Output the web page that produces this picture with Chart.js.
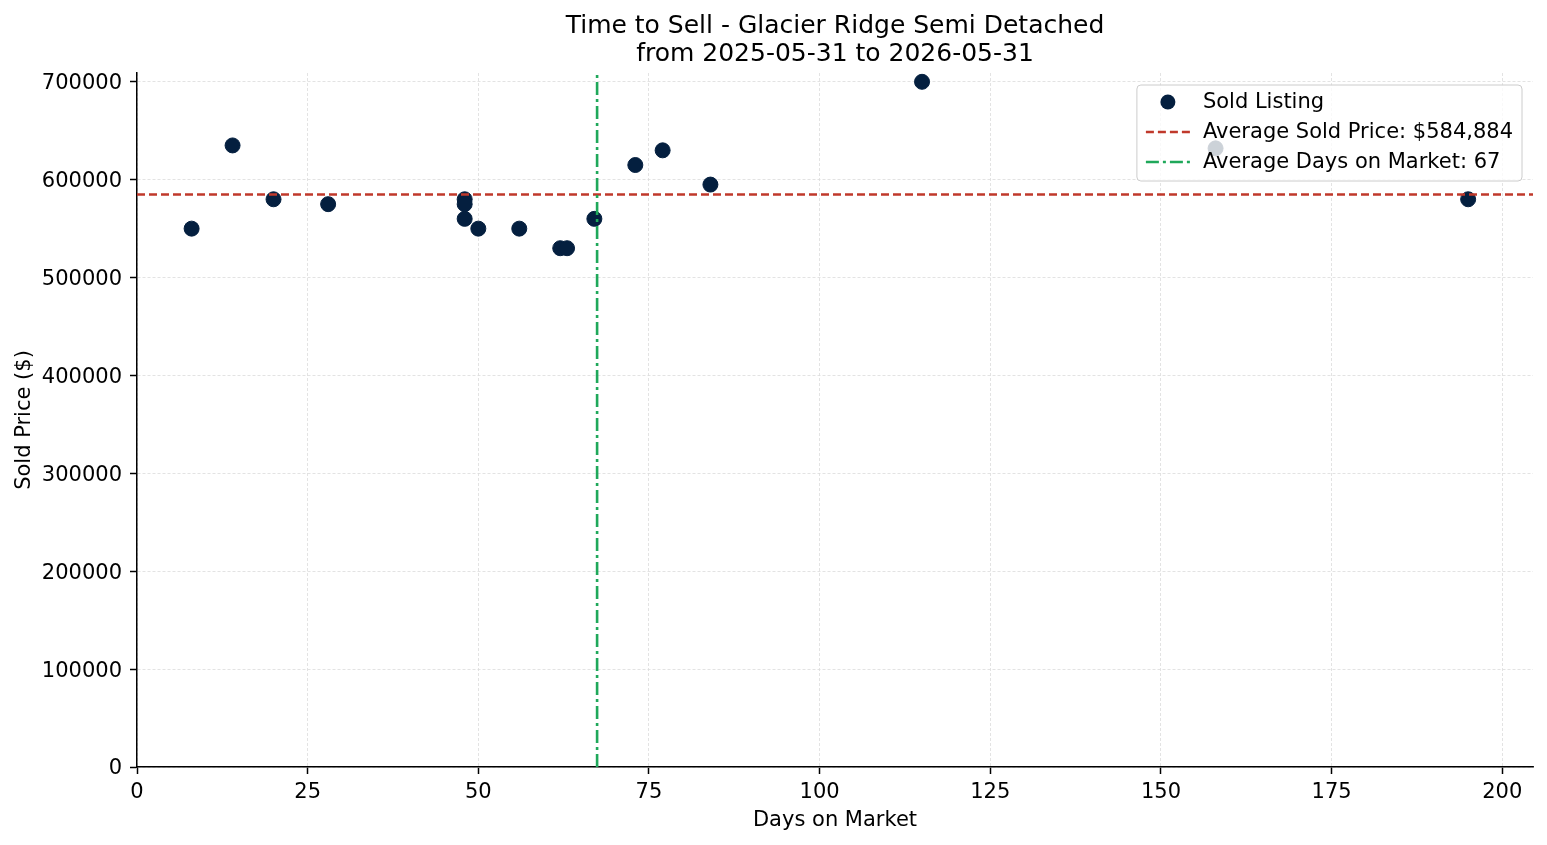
<!DOCTYPE html>
<html>
<head>
<meta charset="utf-8">
<script src="https://cdn.jsdelivr.net/npm/chart.js@4/dist/chart.umd.min.js"></script>
<style>
  html, body { margin: 0; padding: 0; background: #fff; }
  #wrap { width: 1547px; height: 845px; }
</style>
</head>
<body>
<div id="wrap"><canvas id="chart" width="1547" height="845"></canvas></div>
<script>
// --- Data ---
const daysOnMarket = [8, 14, 20, 28, 48, 48, 48, 50, 56, 62, 63, 67, 73, 77, 84, 115, 158, 195];
const soldPrices = [550000, 635000, 580000, 575000, 580000, 575000, 560000, 550000, 550000,
                    530000, 530000, 560000, 615000, 630000, 595000, 700000, 632000, 580000];
const avgSoldPrice = 584884;
const avgDays = 67.4;
const xLimits = [0, 204.5];
const yLimits = [0, 709000];
const xTicks = [0, 25, 50, 75, 100, 125, 150, 175, 200];
const yTicks = [0, 100000, 200000, 300000, 400000, 500000, 600000, 700000];
const titleLines = ['Time to Sell - Glacier Ridge Semi Detached', 'from 2025-05-31 to 2026-05-31'];

const FONT = "'DejaVu Sans', sans-serif";
const pointColor = '#041f3f';
const priceColor = '#c0392b';
const daysColor = '#1fa85a';

const points = daysOnMarket.map((d, i) => ({ x: d, y: soldPrices[i] }));

// matplotlib style legend box in the upper right
const boxLegend = {
    id: 'boxLegend',
    afterDatasetsDraw(chart) {
        const { ctx, chartArea } = chart;
        const sets = chart.data.datasets;
        ctx.save();
        ctx.font = `21px ${FONT}`;
        const maxW = Math.max(...sets.map(s => ctx.measureText(s.label).width));
        const right = chartArea.right - 11;
        const top = chartArea.top + 12;
        const left = right - (66 + maxW + 9);
        const h = 96;
        ctx.beginPath();
        ctx.roundRect(left, top, right - left, h, 4);
        ctx.fillStyle = 'rgba(255,255,255,0.8)';
        ctx.fill();
        ctx.strokeStyle = '#cccccc';
        ctx.lineWidth = 1;
        ctx.stroke();

        sets.forEach((s, i) => {
            const y = top + 17 + i * 30;
            if (s.type === 'line') {
                ctx.beginPath();
                ctx.setLineDash(s.borderDash || []);
                ctx.strokeStyle = s.borderColor;
                ctx.lineWidth = s.borderWidth;
                ctx.moveTo(left + 9, y);
                ctx.lineTo(left + 53, y);
                ctx.stroke();
                ctx.setLineDash([]);
            } else {
                ctx.beginPath();
                ctx.arc(left + 31, y, s.pointRadius, 0, Math.PI * 2);
                ctx.fillStyle = s.backgroundColor;
                ctx.fill();
            }
            ctx.fillStyle = '#000';
            ctx.textBaseline = 'middle';
            ctx.textAlign = 'left';
            ctx.fillText(s.label, left + 66, y + 1);
        });
        ctx.restore();
    }
};

const useTicks = (values) => (scale) => {
    scale.ticks = values.map(v => ({ value: v }));
};

const axisStyle = {
    grid: {
        color: '#dcdcdc',
        lineWidth: 0.8,
        tickColor: '#000',
        tickLength: 7,
        tickWidth: 1.5
    },
    border: { display: true, color: '#000', width: 1.5, dash: [3, 2] }
};

new Chart(document.getElementById('chart'), {
    type: 'scatter',
    data: {
        datasets: [
            {
                label: 'Sold Listing',
                data: points,
                backgroundColor: pointColor,
                borderColor: pointColor,
                pointRadius: 7.5,
                pointHoverRadius: 7.5,
                order: 2
            },
            {
                type: 'line',
                label: 'Average Sold Price: $' + avgSoldPrice.toLocaleString('en-US'),
                data: [{ x: xLimits[0], y: avgSoldPrice }, { x: xLimits[1], y: avgSoldPrice }],
                borderColor: priceColor,
                borderWidth: 2.5,
                borderDash: [8, 4],
                pointRadius: 0,
                fill: false,
                order: 1
            },
            {
                type: 'line',
                label: 'Average Days on Market: ' + Math.round(avgDays),
                data: [{ x: avgDays, y: yLimits[0] }, { x: avgDays, y: yLimits[1] }],
                borderColor: daysColor,
                borderWidth: 2.6,
                borderDash: [13, 4, 3, 4],
                pointRadius: 0,
                fill: false,
                order: 0
            }
        ]
    },
    options: {
        responsive: false,
        animation: false,
        layout: { padding: { top: 0, right: 14, bottom: 0, left: 0 } },
        plugins: {
            legend: { display: false },
            tooltip: { enabled: false },
            title: {
                display: true,
                text: titleLines,
                fullSize: false,
                color: '#000',
                font: { family: FONT, size: 25, weight: 'normal', lineHeight: 1.12 },
                padding: { top: 12, bottom: 5 }
            }
        },
        scales: {
            x: {
                type: 'linear',
                min: xLimits[0],
                max: xLimits[1],
                afterBuildTicks: useTicks(xTicks),
                afterFit: (scale) => { scale.height = 78; },
                ticks: {
                    autoSkip: false,
                    color: '#000',
                    padding: 6,
                    maxRotation: 0,
                    font: { family: FONT, size: 21 }
                },
                ...axisStyle,
                title: {
                    display: true,
                    text: 'Days on Market',
                    color: '#000',
                    font: { family: FONT, size: 21 },
                    padding: { top: 0, bottom: 12 }
                }
            },
            y: {
                type: 'linear',
                min: yLimits[0],
                max: yLimits[1],
                afterBuildTicks: useTicks(yTicks),
                afterFit: (scale) => { scale.width = 137; },
                ticks: {
                    autoSkip: false,
                    color: '#000',
                    padding: 8,
                    labelOffset: 2,
                    font: { family: FONT, size: 21 },
                    callback: (v) => String(v)
                },
                ...axisStyle,
                title: {
                    display: true,
                    text: 'Sold Price ($)',
                    color: '#000',
                    font: { family: FONT, size: 21 },
                    padding: { top: 12, bottom: 0 }
                }
            }
        }
    },
    plugins: [boxLegend]
});
</script>
</body>
</html>
